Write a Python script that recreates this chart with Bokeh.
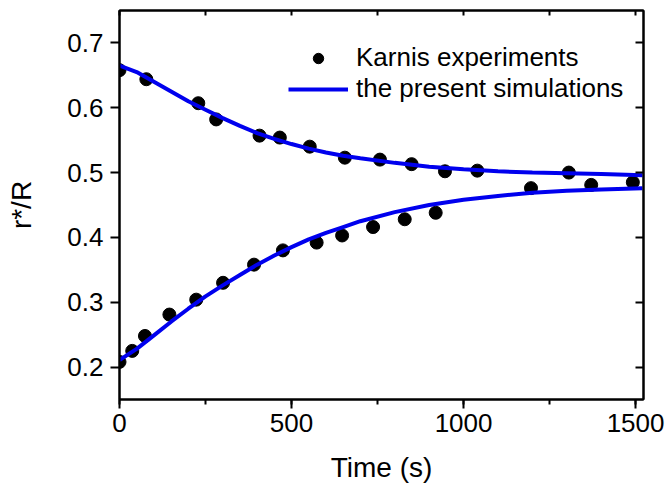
from bokeh.plotting import figure
from bokeh.models import (Range1d, LinearAxis, SingleIntervalTicker, FixedTicker,
                          NumeralTickFormatter, Legend, LegendItem, CustomJSTickFormatter)
from bokeh.embed import file_html
from bokeh.resources import INLINE

# Karnis experiments (symbols)
exp_up_t = [0, 78, 229, 281, 407, 466, 553, 655, 757, 849, 946, 1040, 1306]
exp_up_v = [0.658, 0.644, 0.607, 0.582, 0.557, 0.554, 0.540, 0.523, 0.520, 0.513, 0.502, 0.503, 0.500]
exp_lo_t = [0, 37, 74, 145, 223, 301, 391, 475, 573, 647, 737, 829, 919, 1196, 1371, 1492]
exp_lo_v = [0.208, 0.225, 0.248, 0.281, 0.304, 0.330, 0.358, 0.380, 0.392, 0.403, 0.416, 0.428,
            0.438, 0.476, 0.481, 0.485]

# present simulations (lines)
sim_t = [0, 50, 100, 150, 200, 250, 300, 350, 400, 450, 500, 550, 600, 650, 700, 800, 900,
         1000, 1100, 1200, 1300, 1400, 1520]
sim_up_v = [0.665, 0.655, 0.640, 0.625, 0.610, 0.597, 0.584, 0.572, 0.561, 0.552, 0.544, 0.537,
            0.531, 0.526, 0.522, 0.515, 0.509, 0.505, 0.502, 0.500, 0.499, 0.498, 0.496]
sim_lo_v = [0.211, 0.228, 0.249, 0.270, 0.290, 0.309, 0.326, 0.342, 0.358, 0.372, 0.385, 0.397,
            0.407, 0.416, 0.425, 0.439, 0.450, 0.458, 0.464, 0.469, 0.472, 0.474, 0.476]

x_ticks = [0, 500, 1000, 1500]
x_top_ticks = [0, 250, 500, 750, 1000, 1250, 1500]
y_ticks = [0.2, 0.3, 0.4, 0.5, 0.6, 0.7]

FONT = "Liberation Sans"
BLUE = "#0000ee"
TXT = "black"

p = figure(width=667, height=491, output_backend="svg", toolbar_location=None,
           x_range=Range1d(0, 1523), y_range=Range1d(0.15, 0.75),
           min_border_left=119, min_border_right=24, min_border_top=10, min_border_bottom=92)
p.xgrid.visible = False
p.ygrid.visible = False
p.outline_line_color = "black"
p.outline_line_width = 2
p.background_fill_color = "white"
p.border_fill_color = "white"

# bottom axis
xa = p.xaxis[0]
xa.ticker = SingleIntervalTicker(interval=500, num_minor_ticks=2)
xa.axis_label = "Time (s)"
xa.axis_label_text_font = FONT
xa.axis_label_text_font_size = "28px"
xa.axis_label_text_font_style = "normal"
xa.axis_label_text_color = TXT
xa.axis_label_standoff = 17
xa.major_label_text_font = FONT
xa.major_label_text_font_size = "26px"
xa.major_label_text_color = TXT
xa.major_label_standoff = 5
xa.axis_line_width = 2
xa.major_tick_line_width = 2
xa.minor_tick_line_width = 2
xa.major_tick_out = 9
xa.major_tick_in = 0
xa.minor_tick_out = 5
xa.minor_tick_in = 0

# left axis
ya = p.yaxis[0]
ya.ticker = FixedTicker(ticks=y_ticks)
ya.formatter = NumeralTickFormatter(format="0.0")
ya.axis_label = "r*/R"
ya.axis_label_text_font = FONT
ya.axis_label_text_font_size = "28px"
ya.axis_label_text_font_style = "normal"
ya.axis_label_text_color = TXT
ya.axis_label_standoff = 27
ya.major_label_text_font = FONT
ya.major_label_text_font_size = "26px"
ya.major_label_text_color = TXT
ya.major_label_standoff = 7
ya.axis_line_width = 2
ya.major_tick_line_width = 2
ya.major_tick_out = 9
ya.major_tick_in = 0
ya.minor_tick_out = 0
ya.minor_tick_in = 0

blank = CustomJSTickFormatter(code="return '';")

# top axis (ticks inward, no labels)
ta = LinearAxis(ticker=FixedTicker(ticks=x_top_ticks), formatter=blank)
ta.major_label_standoff = 0
ta.axis_line_width = 2
ta.major_tick_line_width = 2
ta.major_tick_in = 5
ta.major_tick_out = 0
ta.minor_tick_in = 0
ta.minor_tick_out = 0
p.add_layout(ta, "above")

# right axis (ticks inward, no labels)
ra = LinearAxis(ticker=FixedTicker(ticks=y_ticks), formatter=blank)
ra.major_label_standoff = 0
ra.axis_line_width = 2
ra.major_tick_line_width = 2
ra.major_tick_in = 8
ra.major_tick_out = 0
ra.minor_tick_in = 0
ra.minor_tick_out = 0
p.add_layout(ra, "right")

d1 = p.scatter(exp_up_t, exp_up_v, size=13, marker="circle", fill_color="black", line_color="black")
p.scatter(exp_lo_t, exp_lo_v, size=13, marker="circle", fill_color="black", line_color="black")
l1 = p.line(sim_t, sim_up_v, line_color=BLUE, line_width=4)
p.line(sim_t, sim_lo_v, line_color=BLUE, line_width=4)

legend = Legend(items=[LegendItem(label="Karnis experiments", renderers=[d1]),
                       LegendItem(label="the present simulations", renderers=[l1])],
                location=(169, 295))
legend.border_line_color = None
legend.background_fill_alpha = 0
legend.label_text_font = FONT
legend.label_text_font_size = "26px"
legend.label_text_color = TXT
legend.glyph_width = 60
legend.glyph_height = 26
legend.label_height = 26
legend.label_standoff = 8
legend.spacing = 0
legend.padding = 0
legend.margin = 0
p.add_layout(legend, "center")

open("out.html", "w").write(file_html(p, INLINE))
